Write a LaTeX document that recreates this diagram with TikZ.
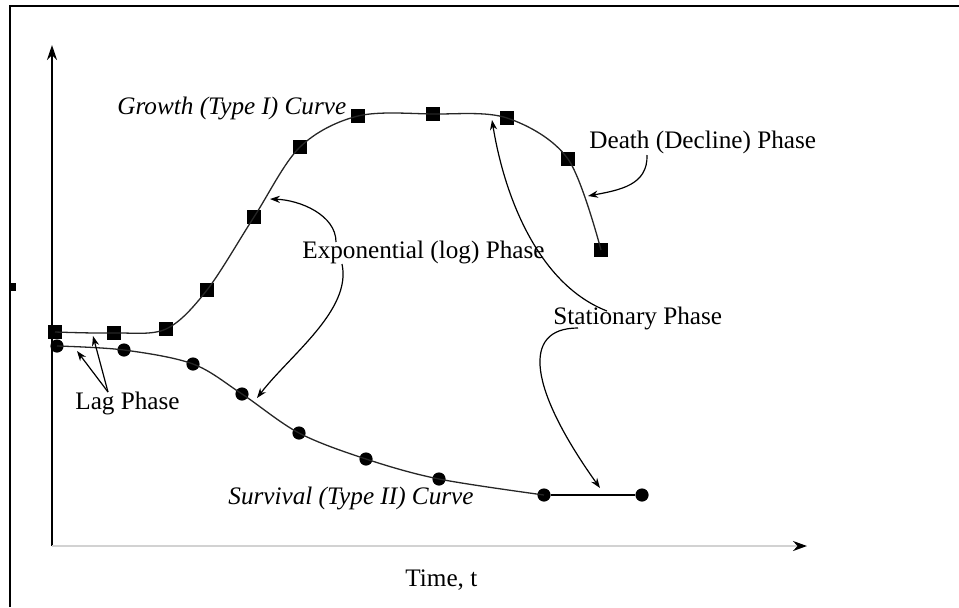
\documentclass[tikz,border=0pt]{standalone}
\usepackage{fontspec}
\setmainfont{Liberation Serif}
\usetikzlibrary{arrows.meta}
\begin{document}
\begin{tikzpicture}[x=0.5pt, y=-0.5pt,
    gsq/.style={rectangle, fill=black, inner sep=0pt, minimum size=7.2pt},
    sdot/.style={circle, fill=black, inner sep=0pt, minimum size=6.6pt},
    lbl/.style={inner sep=0pt, anchor=west, font=\fontsize{12.6}{15}\selectfont},
    pointer/.style={-{Stealth[length=5pt, width=3.6pt]}, line width=0.6pt}]
  \useasboundingbox (0,0) rectangle (959,607);

  % frame
  \draw[line width=1.2pt] (10,607) -- (10,6) -- (959,6);
  \fill (10,283) rectangle (16,291);

  % axes
  \coordinate (o) at (52,546);
  \coordinate (ytop) at (52,45);
  \coordinate (xend) at (807,546);
  \draw[line width=1pt, -{Stealth[length=7.5pt, width=5pt]}] (o) -- (ytop);
  \draw[gray!35, line width=1pt, -{Stealth[length=7pt, width=5pt, color=black]}] (o) -- (xend);

  % growth points
  \foreach \x/\y [count=\i] in {55/332, 114/333, 166/329, 207/290, 254/217, 300/147,
      358/116, 433/114, 507/118, 568/159, 601/250}
  {
    \path (\x,\y) node[gsq] (g\i) {};
  }

  % survival points
  \foreach \x/\y [count=\i] in {57/346, 124/350, 193/364, 242/394, 299/433, 366/459,
      439/479, 544/495, 642/495}
  {
    \path (\x,\y) node[sdot] (s\i) {};
  }

  \draw[black!85, line width=0.65pt] plot[smooth, tension=0.55] coordinates {
    (g1.center) (g2.center) (g3.center) (g4.center) (g5.center) (g6.center)
    (g7.center) (g8.center) (g9.center) (g10.center) (g11.center)};
  \draw[black!85, line width=0.65pt] plot[smooth, tension=0.55] coordinates {
    (s1.center) (s2.center) (s3.center) (s4.center) (s5.center) (s6.center)
    (s7.center) (s8.center)};
  \draw[line width=0.8pt] (s8) -- (s9);

  % labels
  \path (117,108) node[lbl] (growth) {\textit{Growth (Type I) Curve}};
  \path (589,142) node[lbl] (death) {Death (Decline) Phase};
  \path (302,252) node[lbl] (expo) {Exponential (log) Phase};
  \path (553,318) node[lbl] (stat) {Stationary Phase};
  \path (75,403) node[lbl] (lag) {Lag Phase};
  \path (228,498) node[lbl] (surv) {\textit{Survival (Type II) Curve}};
  \path (405,580) node[lbl] (time) {Time, t};

  % pointer ends
  \coordinate (lagfrom) at (108,392);
  \coordinate (lagA) at (77,351);
  \coordinate (lagB) at (93,336);
  \coordinate (expofromA) at (336,242);
  \coordinate (expoA) at (270,199);
  \coordinate (expofromB) at (342,264);
  \coordinate (expoB) at (257,398);
  \coordinate (deathfrom) at (647,155);
  \coordinate (deathA) at (588,196);
  \coordinate (statfromA) at (607,311);
  \coordinate (statA) at (492,120);
  \coordinate (statfromB) at (578,328);
  \coordinate (statB) at (600,488);

  \draw[pointer] (lagfrom) -- (lagA);
  \draw[pointer] (lagfrom) -- (lagB);
  \draw[pointer] (expofromA) .. controls (336,215) and (300,200) .. (expoA);
  \draw[pointer] (expofromB) .. controls (352,310) and (290,355) .. (expoB);
  \draw[pointer] (deathfrom) .. controls (648,185) and (620,190) .. (deathA);
  \draw[pointer] (statfromA) .. controls (540,285) and (505,200) .. (statA);
  \draw[pointer] (statfromB) .. controls (520,328) and (530,390) .. (statB);
\end{tikzpicture}
\end{document}
